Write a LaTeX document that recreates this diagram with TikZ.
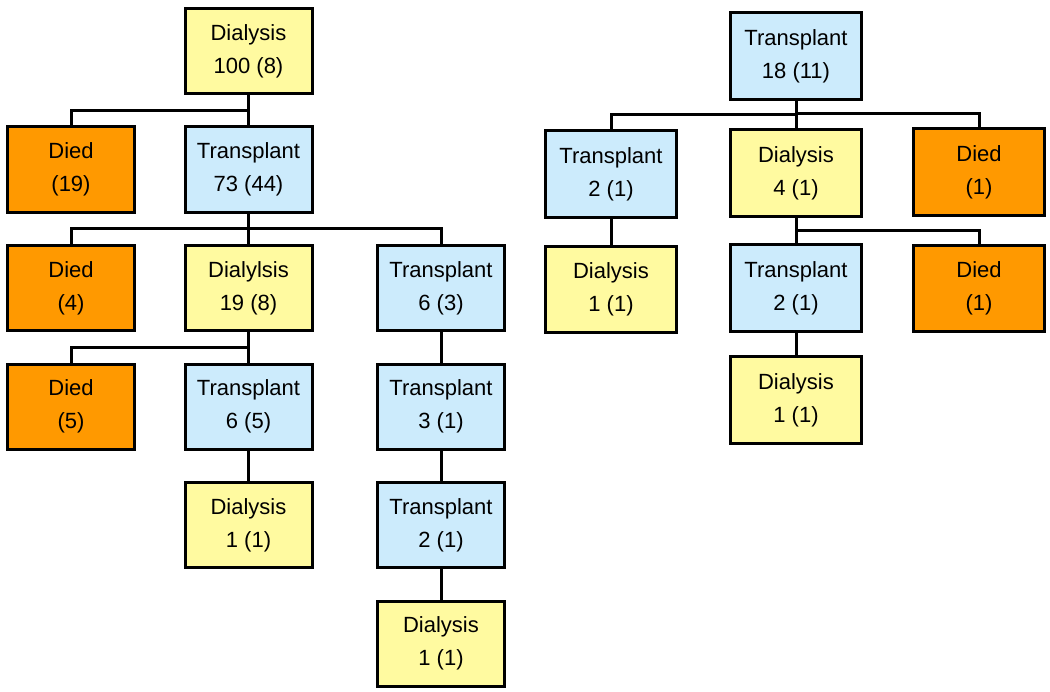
\documentclass[tikz,border=0pt]{standalone}
\usepackage{fontspec}
\setmainfont{Liberation Sans}
\usepackage{xcolor}
\usetikzlibrary{calc}

\definecolor{dialysisYellow}{RGB}{255,250,160}
\definecolor{transplantBlue}{RGB}{204,235,252}
\definecolor{diedOrange}{RGB}{255,153,0}

\tikzset{
  box/.style={draw=black, line width=2.25pt, minimum width=95.25pt, minimum height=63.75pt,
    align=center, inner sep=0pt, font=\fontsize{16.5}{24.75}\selectfont},
  wide/.style={minimum width=98.5pt, minimum height=65pt},
  dialysis/.style={box, fill=dialysisYellow},
  transplant/.style={box, fill=transplantBlue},
  died/.style={box, fill=diedOrange},
  elbow/.style={line width=2.25pt, to path={(\tikztostart) |- ($(\tikztostart)!.5!(\tikztotarget)$) -| (\tikztotarget)}}
}

\begin{document}
\begin{tikzpicture}[x=0.75pt,y=0.75pt,yscale=-1,xscale=1]
  \useasboundingbox (0,0) rectangle (1050,692);

  % Left tree
  \node [dialysis] (dia100) at (248.5,51) {Dialysis\\100 (8)};
  \node [died] (died19) at (71,169.5) {Died\\(19)};
  \node [transplant] (tx73) at (248.5,169.5) {Transplant\\73 (44)};
  \node [died] (died4) at (71,288) {Died\\(4)};
  \node [dialysis] (dia19) at (248.5,288) {Dialylsis\\19 (8)};
  \node [transplant] (tx6a) at (441,288) {Transplant\\6 (3)};
  \node [died] (died5) at (71,406.5) {Died\\(5)};
  \node [transplant] (tx6b) at (248.5,406.5) {Transplant\\6 (5)};
  \node [transplant] (tx3) at (441,406.5) {Transplant\\3 (1)};
  \node [dialysis] (dia1a) at (248.5,525) {Dialysis\\1 (1)};
  \node [transplant] (tx2a) at (441,525) {Transplant\\2 (1)};
  \node [dialysis] (dia1b) at (441,643.5) {Dialysis\\1 (1)};

  % Right tree
  \node [transplant, wide] (tx18) at (796,56) {Transplant\\18 (11)};
  \node [transplant, wide] (tx2b) at (611,174) {Transplant\\2 (1)};
  \node [dialysis, wide] (dia4) at (796,173) {Dialysis\\4 (1)};
  \node [died, wide] (died1a) at (979,172) {Died\\(1)};
  \node [dialysis, wide] (dia1c) at (611,289.5) {Dialysis\\1 (1)};
  \node [transplant, wide] (tx2c) at (796,288) {Transplant\\2 (1)};
  \node [died, wide] (died1b) at (979,288.5) {Died\\(1)};
  \node [dialysis, wide] (dia1d) at (796,400) {Dialysis\\1 (1)};

  % Connectors
  \foreach \p/\c in {dia100/died19, dia100/tx73, tx73/died4, tx73/dia19, tx73/tx6a,
      dia19/died5, dia19/tx6b, tx6b/dia1a, tx6a/tx3, tx3/tx2a, tx2a/dia1b,
      tx18/tx2b, tx18/dia4, tx18/died1a, tx2b/dia1c, dia4/tx2c, dia4/died1b, tx2c/dia1d}
    \draw [elbow] (\p.south) to (\c.north);

\end{tikzpicture}
\end{document}
